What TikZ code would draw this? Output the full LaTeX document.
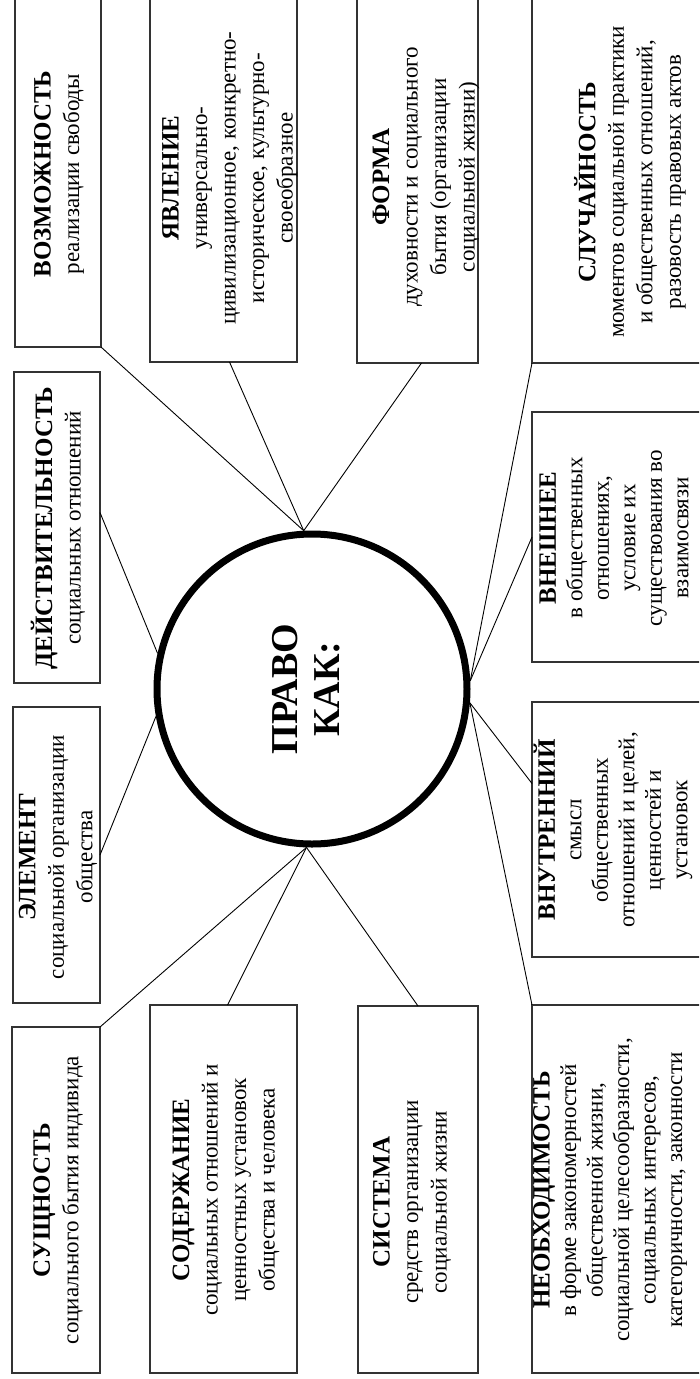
\documentclass[tikz,border=0pt]{standalone}
\usepackage{fontspec}
\setmainfont{Liberation Serif}
\usetikzlibrary{calc}
\newcommand{\headword}[1]{{\fontsize{25}{28.5}\selectfont\bfseries #1}}
% frame given by its left, right, top and bottom edges (y grows downwards)
\newcommand{\panelat}[5]{%
  \node[panel, minimum width={#3-#2}, minimum height={#5-#4}]
    (#1) at ({(#2+#3)/2},{-(#4+#5)/2}) {};}
\begin{document}
\begin{tikzpicture}[x=1pt,y=1pt,
  panel/.style={draw=black!80, line width=1.1pt, rectangle, inner sep=0pt, outer sep=0pt},
  caption/.style={rotate=90, align=center, inner sep=0pt, font=\fontsize{23}{28.5}\selectfont},
  tight/.style={caption, font=\fontsize{23}{26.5}\selectfont},
  link/.style={draw=black, line width=0.9pt},
  hub/.style={circle, draw=black, line width=7pt, minimum size=310pt, inner sep=0pt}
]
\useasboundingbox (0,0) rectangle (699,-1379);
\fill[white] (0,0) rectangle (699,-1379);
\clip (0,0) rectangle (699,-1379);

% central circle
\node[hub] (c) at (312,-689) {};
\node[rotate=90, align=center, inner sep=0pt,
      font=\fontsize{38}{42}\selectfont\bfseries] (title) at (306,-689) {ПРАВО\\КАК:};

% frames
\panelat{vozm}{15}{101}{-6}{347}
\panelat{deist}{14}{100}{372}{683}
\panelat{elem}{13}{100}{707}{1003}
\panelat{sush}{12}{100}{1027}{1373}
\panelat{yavl}{150}{297}{-6}{362}
\panelat{sod}{150}{297}{1005}{1373}
\panelat{forma}{357}{478}{-6}{363}
\panelat{sist}{358}{478}{1006}{1373}
\panelat{sluch}{532}{740}{-6}{363}
\panelat{vnesh}{532}{740}{412}{662}
\panelat{vnutr}{532}{740}{702}{957}
\panelat{neob}{532}{740}{1005}{1373}

% texts
\node[caption] (tvozm) at (59,-174) {\headword{ВОЗМОЖНОСТЬ}\\реализации свободы};
\node[caption] (tdeist) at (58,-528) {\headword{ДЕЙСТВИТЕЛЬНОСТЬ}\\социальных отношений};
\node[caption] (telem) at (58,-857) {\headword{ЭЛЕМЕНТ}\\социальной организации\\общества};
\node[caption] (tsush) at (58,-1200) {\headword{СУЩНОСТЬ}\\социального бытия индивида};
\node[caption] (tyavl) at (230,-178) {\headword{ЯВЛЕНИЕ}\\универсально-\\цивилизационное, конкретно-\\историческое, культурно-\\своеобразное};
\node[caption] (tsod) at (226,-1190) {\headword{СОДЕРЖАНИЕ}\\социальных отношений и\\ценностных установок\\общества и человека};
\node[caption] (tforma) at (426,-177) {\headword{ФОРМА}\\духовности и социального\\бытия (организации\\социальной жизни)};
\node[caption] (tsist) at (412,-1202) {\headword{СИСТЕМА}\\средств организации\\социальной жизни};
\node[caption] (tsluch) at (630,-182) {\headword{СЛУЧАЙНОСТЬ}\\моментов социальной практики\\и общественных отношений,\\разовость правовых актов};
\node[tight] (tvnesh) at (614,-538) {\headword{ВНЕШНЕЕ}\\в общественных\\отношениях,\\условие их\\существования во\\взаимосвязи};
\node[tight] (tvnutr) at (613,-830) {\headword{ВНУТРЕННИЙ}\\смысл\\общественных\\отношений и целей,\\ценностей и\\установок};
\node[tight] (tneob) at (610,-1190) {\headword{НЕОБХОДИМОСТЬ}\\в форме закономерностей\\общественной жизни,\\социальной целесообразности,\\социальных интересов,\\категоричности, законности};

% connectors from the circle to every frame
\draw[link] (c.93) -- (vozm.south east);
\draw[link] (c.93) -- ($(yavl.south)+(6,0)$);
\draw[link] (c.93) -- ($(forma.south)+(4,0)$);
\draw[link] (c.167) -- ($(deist.east)+(0,15)$);
\draw[link] (c.190) -- (elem.east);
\draw[link] (c.268) -- (sush.north east);
\draw[link] (c.268) -- ($(sod.north)+(4,0)$);
\draw[link] (c.268) -- (sist.north);
\draw[link] (c.3) -- (sluch.south west);
\draw[link] (c.3) -- (vnesh.west);
\draw[link] (c.-5) -- ($(vnutr.west)+(0,46)$);
\draw[link] (c.-5) -- (neob.north west);
\end{tikzpicture}
\end{document}
